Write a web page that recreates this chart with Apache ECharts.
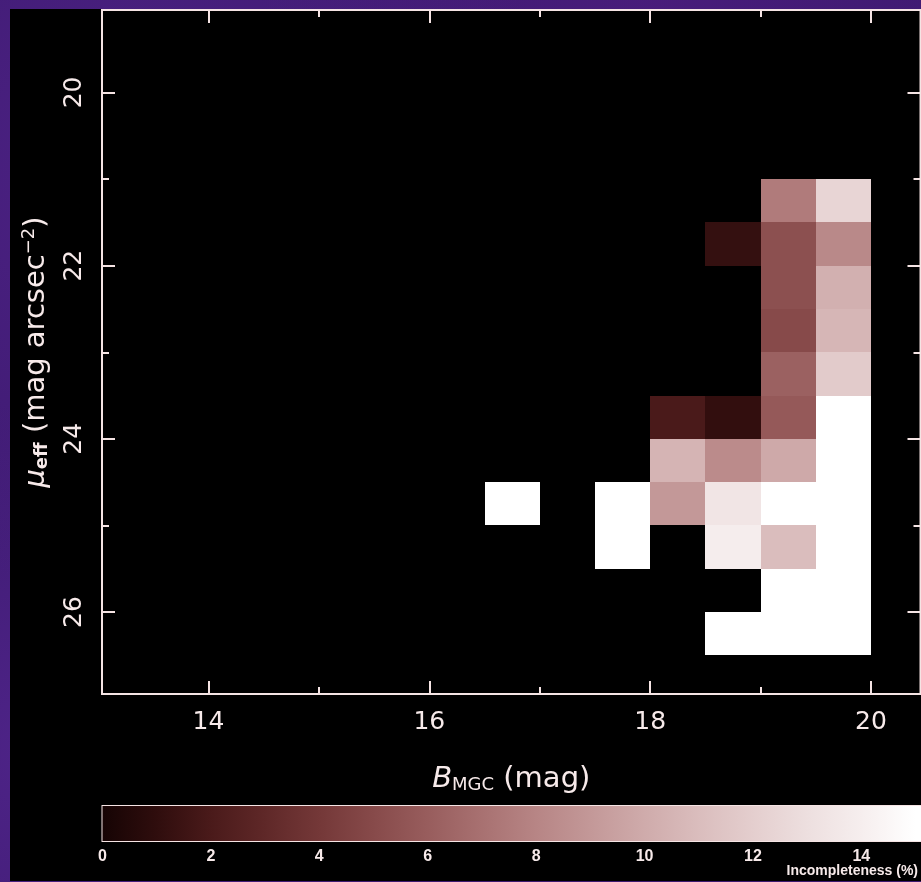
<!DOCTYPE html>
<html>
<head>
<meta charset="utf-8">
<script src="https://cdn.jsdelivr.net/npm/echarts@6/dist/echarts.min.js"></script>
<style>
  html, body { margin: 0; padding: 0; }
  body {
    width: 921px; height: 882px; overflow: hidden; position: relative;
    background:
      radial-gradient(circle at 15% 20%, rgba(90,40,150,0.55), rgba(0,0,0,0) 40%),
      radial-gradient(circle at 70% 0%, rgba(80,30,130,0.6), rgba(0,0,0,0) 35%),
      radial-gradient(circle at 5% 85%, rgba(95,45,160,0.5), rgba(0,0,0,0) 30%),
      #3d1a70;
  }
  #panel { position: absolute; left: 10px; top: 9px; width: 911px; height: 872px; background: #000; }
  #chart { position: absolute; left: 0; top: 0; width: 921px; height: 882px; }
</style>
</head>
<body>
<div id="panel"></div>
<div id="chart"></div>
<script>
// Bin sizes of the magnitude / surface-brightness grid
const BIN_B = 0.5;
const BIN_MU = 0.5;

// Lower B_MGC edge of each populated bin
const cellB = [
  19.0, 19.5,
  18.5, 19.0, 19.5,
  19.0, 19.5,
  19.0, 19.5,
  19.0, 19.5,
  18.0, 18.5, 19.0, 19.5,
  18.0, 18.5, 19.0, 19.5,
  16.5, 17.5, 18.0, 18.5, 19.0, 19.5,
  17.5, 18.5, 19.0, 19.5,
  19.0, 19.5,
  18.5, 19.0, 19.5
];
// Bright (upper) mu_eff edge of each populated bin
const cellMu = [
  21.0, 21.0,
  21.5, 21.5, 21.5,
  22.0, 22.0,
  22.5, 22.5,
  23.0, 23.0,
  23.5, 23.5, 23.5, 23.5,
  24.0, 24.0, 24.0, 24.0,
  24.5, 24.5, 24.5, 24.5, 24.5, 24.5,
  25.0, 25.0, 25.0, 25.0,
  25.5, 25.5,
  26.0, 26.0, 26.0
];
// Incompleteness (%) in each bin
const cellPct = [
  7.5, 12.4,
  1.2, 5.3, 8.2,
  5.3, 10.3,
  5.0, 10.6,
  6.2, 11.8,
  2.0, 1.1, 5.8, 15,
  10.5, 8.3, 9.9, 15,
  15, 15, 9.0, 13.4, 15, 15,
  15, 13.9, 11.0, 15,
  15, 15,
  15, 15, 15
];

// Axis ticks
const bMajor = [14, 16, 18, 20];
const bMinor = [15, 17, 19];
const muMajor = [20, 22, 24, 26];
const muMinor = [21, 23, 25];
const pctMajor = [0, 2, 4, 6, 8, 10, 12, 14];
const pctMinor = [1, 3, 5, 7, 9, 11, 13, 15];

// Colour ramp for 0 .. 15 per cent (one stop per unit)
const cmapColors = [
  '#160404', '#2f0d0d', '#4a1a1a', '#5f2828', '#743838', '#874a4a',
  '#985d5d', '#a87171', '#b78585', '#c39898', '#cfabab', '#dabdbd',
  '#e4cece', '#eddfdf', '#f6eeee', '#ffffff'
];
const CMAP_MAX = 15;
const BAR_MAX = 15.1;

const FG = '#f7eaea';
const LINE = '#f5e4e4';
const FONT = '"DejaVu Sans", sans-serif';
const FONT_BAR = '"Liberation Sans", Arial, sans-serif';

const cells = cellB.map((b, i) => [b, cellMu[i], cellPct[i]]);

const gradStops = cmapColors.map((c, i) => ({ offset: i / BAR_MAX, color: c }));
gradStops.push({ offset: 1, color: '#ffffff' });

function tickAxis(base, ticks, len, label) {
  return Object.assign({
    type: 'value',
    axisLine: { show: false },
    splitLine: { show: false },
    axisTick: {
      show: true, inside: true, length: len, customValues: ticks,
      lineStyle: { color: LINE, width: 2 }
    },
    axisLabel: label ? Object.assign({ show: true, customValues: ticks }, label) : { show: false }
  }, base);
}

const mainX = { gridIndex: 0, min: 13.036, max: 20.448 };
const mainY = { gridIndex: 0, min: 19.048, max: 26.946, inverse: true };
const barX = { gridIndex: 1, min: 0, max: BAR_MAX };

const tickLabel = { fontSize: 25, color: FG, fontFamily: FONT };

const chart = echarts.init(document.getElementById('chart'), null, { renderer: 'canvas' });

chart.setOption({
  backgroundColor: 'transparent',
  animation: false,
  textStyle: { fontFamily: FONT },
  grid: [
    { left: 102, top: 10, width: 818.5, height: 684, show: true, outerBoundsMode: 'none',
      containLabel: false, borderColor: LINE, borderWidth: 2, backgroundColor: 'transparent' },
    { left: 102.5, top: 806, width: 818.5, height: 35, show: true, outerBoundsMode: 'none',
      containLabel: false, borderColor: LINE, borderWidth: 2, backgroundColor: 'transparent' }
  ],
  visualMap: {
    type: 'continuous', show: false, min: 0, max: CMAP_MAX,
    dimension: 2, seriesIndex: 0, inRange: { color: cmapColors }
  },
  xAxis: [
    tickAxis(Object.assign({ position: 'bottom',
      name: '{i|B}{sub|MGC}{n| (mag)}', nameLocation: 'middle', nameGap: 70,
      nameMoveOverlap: false,
      nameTextStyle: {
        color: FG,
        rich: {
          i: { fontFamily: FONT, fontSize: 29, fontStyle: 'italic', color: FG },
          sub: { fontFamily: FONT, fontSize: 18, color: FG, padding: [12, 0, 0, 0] },
          n: { fontFamily: FONT, fontSize: 29, color: FG }
        }
      }
    }, mainX), bMajor, 13, Object.assign({ margin: 16 }, tickLabel)),
    tickAxis(Object.assign({ position: 'bottom' }, mainX), bMinor, 7, null),
    tickAxis(Object.assign({ position: 'top' }, mainX), bMajor, 13, null),
    tickAxis(Object.assign({ position: 'top' }, mainX), bMinor, 7, null),
    tickAxis(Object.assign({ position: 'bottom' }, barX), pctMajor, 9,
      { margin: 8, fontSize: 16, fontWeight: 'bold', color: FG, fontFamily: FONT_BAR }),
    tickAxis(Object.assign({ position: 'bottom' }, barX), pctMinor, 4.5, null),
    tickAxis(Object.assign({ position: 'top' }, barX), pctMajor, 9, null),
    tickAxis(Object.assign({ position: 'top' }, barX), pctMinor, 4.5, null)
  ],
  yAxis: [
    tickAxis(Object.assign({ position: 'left',
      name: '{i|μ}{sub|eff}{n| (mag arcsec}{sup|−2}{n|)}', nameLocation: 'middle',
      nameGap: 50, nameRotate: 90, nameMoveOverlap: false,
      nameTextStyle: {
        color: FG,
        rich: {
          i: { fontFamily: FONT, fontSize: 29, fontStyle: 'italic', color: FG },
          sub: { fontFamily: FONT, fontSize: 18, fontWeight: 'bold', color: FG, padding: [12, 0, 0, 0] },
          sup: { fontFamily: FONT, fontSize: 18, color: FG, padding: [0, 0, 14, 0] },
          n: { fontFamily: FONT, fontSize: 29, color: FG }
        }
      }
    }, mainY), muMajor, 13, Object.assign({ rotate: 90, margin: 15 }, tickLabel)),
    tickAxis(Object.assign({ position: 'left' }, mainY), muMinor, 7, null),
    tickAxis(Object.assign({ position: 'right' }, mainY), muMajor, 13, null),
    tickAxis(Object.assign({ position: 'right' }, mainY), muMinor, 7, null),
    { type: 'value', gridIndex: 1, min: 0, max: 1, show: false }
  ],
  graphic: [
    {
      type: 'text', right: 3, top: 864,
      style: { text: 'Incompleteness (%)', fill: FG, font: 'bold 14px ' + FONT_BAR, textAlign: 'right' }
    }
  ],
  series: [
    {
      type: 'custom',
      coordinateSystem: 'cartesian2d',
      xAxisIndex: 0, yAxisIndex: 0,
      encode: { x: 0, y: 1 },
      data: cells,
      renderItem: function (params, api) {
        const b0 = api.value(0), mu0 = api.value(1);
        const p0 = api.coord([b0, mu0]);
        const p1 = api.coord([b0 + BIN_B, mu0 + BIN_MU]);
        const x0 = Math.round(Math.min(p0[0], p1[0])), x1 = Math.round(Math.max(p0[0], p1[0]));
        const y0 = Math.round(Math.min(p0[1], p1[1])), y1 = Math.round(Math.max(p0[1], p1[1]));
        return {
          type: 'rect',
          shape: { x: x0, y: y0, width: x1 - x0, height: y1 - y0 },
          style: { fill: api.visual('color') }
        };
      }
    },
    {
      type: 'custom',
      coordinateSystem: 'cartesian2d',
      xAxisIndex: 4, yAxisIndex: 4,
      encode: { x: [0, 1] },
      data: [[0, BAR_MAX]],
      z: 1,
      renderItem: function (params, api) {
        const p0 = api.coord([api.value(0), 1]);
        const p1 = api.coord([api.value(1), 0]);
        return {
          type: 'rect',
          shape: { x: p0[0], y: p0[1], width: p1[0] - p0[0], height: p1[1] - p0[1] },
          style: {
            fill: { type: 'linear', x: 0, y: 0, x2: 1, y2: 0, colorStops: gradStops, global: false }
          }
        };
      }
    }
  ]
});
</script>
</body>
</html>
